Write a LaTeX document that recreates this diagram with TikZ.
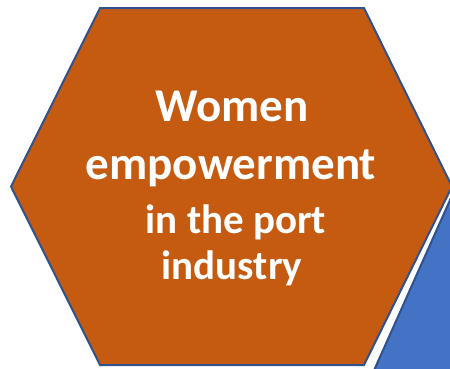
\documentclass[tikz,border=0pt]{standalone}
\usepackage{fontspec}
\setmainfont{Carlito}
\definecolor{hexorange}{HTML}{C55A11}
\definecolor{hexblue}{HTML}{4472C4}
\definecolor{hexline}{HTML}{2F528F}
\begin{document}
\begin{tikzpicture}[x=1pt,y=-1pt,
  hexshape/.style={fill=hexorange,draw=hexline,line width=2pt,line join=miter},
  bluepart/.style={fill=hexblue},
  blueedge/.style={draw=hexline,line width=2pt},
  bigtxt/.style={text=white,font=\bfseries\fontsize{47}{50}\selectfont,anchor=base,inner sep=0pt},
  smalltxt/.style={text=white,font=\bfseries\fontsize{41}{44}\selectfont,anchor=base,inner sep=0pt}]
\useasboundingbox (0,0) rectangle (450,368);
\begin{scope}
\clip (0,0) rectangle (450,368);
% blue neighbouring shape
\coordinate (b1) at (454.5,190);
\coordinate (b2) at (373.3,372);
\fill[bluepart] (b1) -- (b2) -- (460,372) -- (460,190) -- cycle;
\draw[blueedge] (b1) -- (b2);
% orange hexagon
\coordinate (hl) at (11,186.5);
\coordinate (htl) at (100,8);
\coordinate (htr) at (364,8);
\coordinate (hr) at (452,186.5);
\coordinate (hbr) at (364,365);
\coordinate (hbl) at (100,365);
\draw[hexshape] (hl) -- (htl) -- (htr) -- (hr) -- (hbr) -- (hbl) -- cycle;
\end{scope}
\node[bigtxt] (l1) at (232,121) {Women};
\node[bigtxt] (l2) at (231,179) {empowerment};
\node[smalltxt] (l3) at (236,233) {in the port};
\node[smalltxt] (l4) at (232,279) {industry};
\end{tikzpicture}
\end{document}
